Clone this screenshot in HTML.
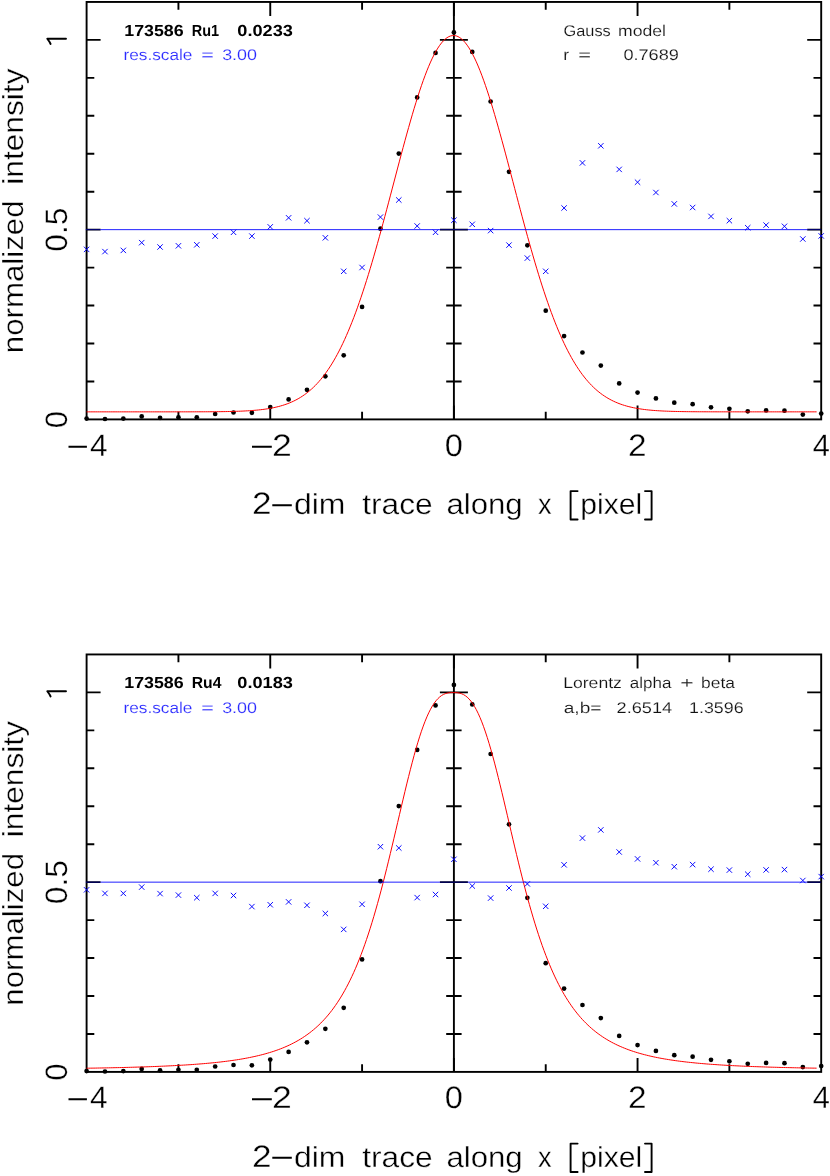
<!DOCTYPE html>
<html><head><meta charset="utf-8"><title>PSF trace fits</title>
<style>html,body{margin:0;padding:0;background:#fff}svg{display:block;will-change:transform}text{font-family:"Liberation Sans",sans-serif;text-rendering:geometricPrecision}</style>
</head><body>
<svg width="830" height="1176" viewBox="0 0 830 1176">
<rect width="830" height="1176" fill="#fff"/>
<g stroke="#000" stroke-width="1.9" fill="none">
<rect x="86.60" y="1.95" width="734.60" height="417.45"/>
<line x1="453.90" y1="1.95" x2="453.90" y2="419.40"/>
<path d="M178.43 419.40v-7.7M178.43 1.95v7.7M270.25 419.40v-14M270.25 1.95v14M362.08 419.40v-7.7M362.08 1.95v7.7M453.90 419.40v-14M453.90 1.95v14M545.73 419.40v-7.7M545.73 1.95v7.7M637.55 419.40v-14M637.55 1.95v14M729.38 419.40v-7.7M729.38 1.95v7.7M86.60 381.45h7.7M821.20 381.45h-7.7M446.20 381.45h15.4M86.60 343.50h7.7M821.20 343.50h-7.7M446.20 343.50h15.4M86.60 305.55h7.7M821.20 305.55h-7.7M446.20 305.55h15.4M86.60 267.60h7.7M821.20 267.60h-7.7M446.20 267.60h15.4M86.60 229.65h14M821.20 229.65h-14M439.90 229.65h28M86.60 191.70h7.7M821.20 191.70h-7.7M446.20 191.70h15.4M86.60 153.75h7.7M821.20 153.75h-7.7M446.20 153.75h15.4M86.60 115.80h7.7M821.20 115.80h-7.7M446.20 115.80h15.4M86.60 77.85h7.7M821.20 77.85h-7.7M446.20 77.85h15.4M86.60 39.90h14M821.20 39.90h-14M439.90 39.90h28"/>
</g>
<g fill="#000">
<circle cx="86.60" cy="418.55" r="2.35"/>
<circle cx="104.97" cy="419.00" r="2.35"/>
<circle cx="123.33" cy="418.55" r="2.35"/>
<circle cx="141.69" cy="416.40" r="2.35"/>
<circle cx="160.06" cy="417.80" r="2.35"/>
<circle cx="178.43" cy="417.35" r="2.35"/>
<circle cx="196.79" cy="417.35" r="2.35"/>
<circle cx="215.16" cy="414.00" r="2.35"/>
<circle cx="233.52" cy="412.50" r="2.35"/>
<circle cx="251.88" cy="412.80" r="2.35"/>
<circle cx="270.25" cy="407.10" r="2.35"/>
<circle cx="288.62" cy="399.40" r="2.35"/>
<circle cx="306.98" cy="389.80" r="2.35"/>
<circle cx="325.35" cy="376.30" r="2.35"/>
<circle cx="343.71" cy="355.30" r="2.35"/>
<circle cx="362.08" cy="306.90" r="2.35"/>
<circle cx="380.44" cy="228.70" r="2.35"/>
<circle cx="398.80" cy="153.60" r="2.35"/>
<circle cx="417.17" cy="97.40" r="2.35"/>
<circle cx="435.53" cy="52.90" r="2.35"/>
<circle cx="453.90" cy="32.40" r="2.35"/>
<circle cx="472.26" cy="51.90" r="2.35"/>
<circle cx="490.63" cy="101.50" r="2.35"/>
<circle cx="509.00" cy="171.80" r="2.35"/>
<circle cx="527.36" cy="245.30" r="2.35"/>
<circle cx="545.73" cy="310.70" r="2.35"/>
<circle cx="564.09" cy="336.10" r="2.35"/>
<circle cx="582.46" cy="352.50" r="2.35"/>
<circle cx="600.82" cy="365.60" r="2.35"/>
<circle cx="619.19" cy="383.40" r="2.35"/>
<circle cx="637.55" cy="392.60" r="2.35"/>
<circle cx="655.92" cy="398.40" r="2.35"/>
<circle cx="674.28" cy="402.70" r="2.35"/>
<circle cx="692.64" cy="404.20" r="2.35"/>
<circle cx="711.01" cy="407.30" r="2.35"/>
<circle cx="729.38" cy="408.80" r="2.35"/>
<circle cx="747.74" cy="411.30" r="2.35"/>
<circle cx="766.11" cy="410.40" r="2.35"/>
<circle cx="784.47" cy="410.70" r="2.35"/>
<circle cx="802.84" cy="414.60" r="2.35"/>
<circle cx="821.20" cy="413.60" r="2.35"/>
</g>
<polyline points="86.60,411.85 88.43,411.85 90.26,411.85 92.09,411.85 93.92,411.85 95.75,411.85 97.58,411.85 99.41,411.85 101.24,411.85 103.07,411.85 104.90,411.85 106.73,411.85 108.56,411.85 110.38,411.85 112.21,411.85 114.04,411.85 115.87,411.85 117.70,411.85 119.53,411.85 121.36,411.85 123.19,411.85 125.02,411.85 126.85,411.85 128.68,411.85 130.51,411.85 132.34,411.85 134.17,411.85 136.00,411.85 137.83,411.85 139.66,411.85 141.49,411.85 143.32,411.85 145.15,411.85 146.98,411.85 148.81,411.85 150.64,411.85 152.47,411.85 154.30,411.85 156.12,411.85 157.95,411.85 159.78,411.85 161.61,411.85 163.44,411.85 165.27,411.85 167.10,411.85 168.93,411.85 170.76,411.85 172.59,411.84 174.42,411.84 176.25,411.84 178.08,411.84 179.91,411.84 181.74,411.84 183.57,411.84 185.40,411.83 187.23,411.83 189.06,411.83 190.89,411.83 192.72,411.82 194.55,411.82 196.38,411.81 198.21,411.81 200.03,411.80 201.86,411.79 203.69,411.79 205.52,411.78 207.35,411.77 209.18,411.76 211.01,411.75 212.84,411.73 214.67,411.72 216.50,411.70 218.33,411.68 220.16,411.66 221.99,411.63 223.82,411.61 225.65,411.58 227.48,411.54 229.31,411.51 231.14,411.46 232.97,411.42 234.80,411.37 236.63,411.31 238.46,411.25 240.29,411.18 242.12,411.10 243.95,411.02 245.77,410.92 247.60,410.82 249.43,410.71 251.26,410.58 253.09,410.44 254.92,410.29 256.75,410.13 258.58,409.95 260.41,409.75 262.24,409.53 264.07,409.30 265.90,409.04 267.73,408.76 269.56,408.46 271.39,408.12 273.22,407.76 275.05,407.37 276.88,406.95 278.71,406.49 280.54,405.99 282.37,405.46 284.20,404.88 286.03,404.26 287.86,403.58 289.69,402.86 291.51,402.08 293.34,401.25 295.17,400.35 297.00,399.39 298.83,398.36 300.66,397.27 302.49,396.09 304.32,394.84 306.15,393.51 307.98,392.09 309.81,390.58 311.64,388.97 313.47,387.27 315.30,385.47 317.13,383.55 318.96,381.53 320.79,379.40 322.62,377.15 324.45,374.77 326.28,372.27 328.11,369.64 329.94,366.88 331.77,363.98 333.60,360.94 335.43,357.76 337.25,354.44 339.08,350.97 340.91,347.34 342.74,343.57 344.57,339.64 346.40,335.56 348.23,331.32 350.06,326.92 351.89,322.37 353.72,317.67 355.55,312.80 357.38,307.79 359.21,302.62 361.04,297.30 362.87,291.83 364.70,286.22 366.53,280.47 368.36,274.58 370.19,268.57 372.02,262.43 373.85,256.17 375.68,249.80 377.51,243.33 379.34,236.77 381.16,230.11 382.99,223.38 384.82,216.58 386.65,209.73 388.48,202.83 390.31,195.89 392.14,188.94 393.97,181.97 395.80,175.01 397.63,168.06 399.46,161.14 401.29,154.27 403.12,147.45 404.95,140.71 406.78,134.05 408.61,127.50 410.44,121.06 412.27,114.75 414.10,108.59 415.93,102.59 417.76,96.77 419.59,91.13 421.42,85.70 423.25,80.48 425.08,75.50 426.90,70.75 428.73,66.27 430.56,62.05 432.39,58.10 434.22,54.45 436.05,51.10 437.88,48.05 439.71,45.32 441.54,42.91 443.37,40.83 445.20,39.09 447.03,37.69 448.86,36.63 450.69,35.93 452.52,35.57 454.35,35.56 456.18,35.90 458.01,36.59 459.84,37.63 461.67,39.01 463.50,40.73 465.33,42.80 467.16,45.19 468.99,47.90 470.82,50.93 472.64,54.27 474.47,57.91 476.30,61.84 478.13,66.04 479.96,70.52 481.79,75.24 483.62,80.22 485.45,85.42 487.28,90.84 489.11,96.47 490.94,102.29 492.77,108.28 494.60,114.43 496.43,120.73 498.26,127.16 500.09,133.71 501.92,140.36 503.75,147.10 505.58,153.91 507.41,160.78 509.24,167.70 511.07,174.64 512.90,181.61 514.73,188.58 516.56,195.53 518.38,202.47 520.21,209.37 522.04,216.23 523.87,223.03 525.70,229.76 527.53,236.42 529.36,242.99 531.19,249.47 533.02,255.85 534.85,262.11 536.68,268.25 538.51,274.28 540.34,280.17 542.17,285.93 544.00,291.54 545.83,297.02 547.66,302.34 549.49,307.52 551.32,312.55 553.15,317.42 554.98,322.13 556.81,326.69 558.64,331.10 560.47,335.34 562.29,339.43 564.12,343.37 565.95,347.15 567.78,350.78 569.61,354.26 571.44,357.60 573.27,360.78 575.10,363.83 576.93,366.73 578.76,369.50 580.59,372.14 582.42,374.65 584.25,377.03 586.08,379.29 587.91,381.43 589.74,383.45 591.57,385.37 593.40,387.18 595.23,388.89 597.06,390.50 598.89,392.01 600.72,393.44 602.55,394.77 604.38,396.03 606.21,397.21 608.03,398.31 609.86,399.34 611.69,400.30 613.52,401.20 615.35,402.04 617.18,402.82 619.01,403.55 620.84,404.22 622.67,404.85 624.50,405.43 626.33,405.97 628.16,406.47 629.99,406.93 631.82,407.35 633.65,407.74 635.48,408.11 637.31,408.44 639.14,408.75 640.97,409.03 642.80,409.29 644.63,409.52 646.46,409.74 648.29,409.94 650.12,410.12 651.95,410.29 653.77,410.44 655.60,410.57 657.43,410.70 659.26,410.81 661.09,410.92 662.92,411.01 664.75,411.10 666.58,411.17 668.41,411.24 670.24,411.31 672.07,411.36 673.90,411.42 675.73,411.46 677.56,411.50 679.39,411.54 681.22,411.57 683.05,411.61 684.88,411.63 686.71,411.66 688.54,411.68 690.37,411.70 692.20,411.72 694.03,411.73 695.86,411.74 697.69,411.76 699.51,411.77 701.34,411.78 703.17,411.79 705.00,411.79 706.83,411.80 708.66,411.81 710.49,411.81 712.32,411.82 714.15,411.82 715.98,411.82 717.81,411.83 719.64,411.83 721.47,411.83 723.30,411.84 725.13,411.84 726.96,411.84 728.79,411.84 730.62,411.84 732.45,411.84 734.28,411.84 736.11,411.85 737.94,411.85 739.77,411.85 741.60,411.85 743.42,411.85 745.25,411.85 747.08,411.85 748.91,411.85 750.74,411.85 752.57,411.85 754.40,411.85 756.23,411.85 758.06,411.85 759.89,411.85 761.72,411.85 763.55,411.85 765.38,411.85 767.21,411.85 769.04,411.85 770.87,411.85 772.70,411.85 774.53,411.85 776.36,411.85 778.19,411.85 780.02,411.85 781.85,411.85 783.68,411.85 785.51,411.85 787.34,411.85 789.16,411.85 790.99,411.85 792.82,411.85 794.65,411.85 796.48,411.85 798.31,411.85 800.14,411.85 801.97,411.85 803.80,411.85 805.63,411.85 807.46,411.85 809.29,411.85 811.12,411.85 812.95,411.85 814.78,411.85 816.61,411.85" fill="none" stroke="#f00" stroke-width="1"/>
<path d="M100.60 229.65H439.90M467.90 229.65H807.20" stroke="#00f" stroke-width="0.88" fill="none"/>
<path d="M85.70 229.65H100.60M439.90 229.65H467.90M807.20 229.65H821.20" stroke="#00f" stroke-width="1" stroke-opacity="0.5" fill="none"/>
<path d="M83.90 246.70l5.4 5.4M83.90 252.10l5.4 -5.4M102.27 248.90l5.4 5.4M102.27 254.30l5.4 -5.4M120.63 247.70l5.4 5.4M120.63 253.10l5.4 -5.4M139.00 239.95l5.4 5.4M139.00 245.35l5.4 -5.4M157.36 244.30l5.4 5.4M157.36 249.70l5.4 -5.4M175.73 243.10l5.4 5.4M175.73 248.50l5.4 -5.4M194.09 242.10l5.4 5.4M194.09 247.50l5.4 -5.4M212.46 233.40l5.4 5.4M212.46 238.80l5.4 -5.4M230.82 229.60l5.4 5.4M230.82 235.00l5.4 -5.4M249.19 233.40l5.4 5.4M249.19 238.80l5.4 -5.4M267.55 224.15l5.4 5.4M267.55 229.55l5.4 -5.4M285.92 215.10l5.4 5.4M285.92 220.50l5.4 -5.4M304.28 218.00l5.4 5.4M304.28 223.40l5.4 -5.4M322.65 235.10l5.4 5.4M322.65 240.50l5.4 -5.4M341.01 268.60l5.4 5.4M341.01 274.00l5.4 -5.4M359.38 264.80l5.4 5.4M359.38 270.20l5.4 -5.4M377.74 214.40l5.4 5.4M377.74 219.80l5.4 -5.4M396.10 197.30l5.4 5.4M396.10 202.70l5.4 -5.4M414.47 223.30l5.4 5.4M414.47 228.70l5.4 -5.4M432.83 229.60l5.4 5.4M432.83 235.00l5.4 -5.4M451.20 217.50l5.4 5.4M451.20 222.90l5.4 -5.4M469.56 221.60l5.4 5.4M469.56 227.00l5.4 -5.4M487.93 227.90l5.4 5.4M487.93 233.30l5.4 -5.4M506.30 242.40l5.4 5.4M506.30 247.80l5.4 -5.4M524.66 255.40l5.4 5.4M524.66 260.80l5.4 -5.4M543.02 268.60l5.4 5.4M543.02 274.00l5.4 -5.4M561.39 205.30l5.4 5.4M561.39 210.70l5.4 -5.4M579.75 160.20l5.4 5.4M579.75 165.60l5.4 -5.4M598.12 143.10l5.4 5.4M598.12 148.50l5.4 -5.4M616.49 166.70l5.4 5.4M616.49 172.10l5.4 -5.4M634.85 179.50l5.4 5.4M634.85 184.90l5.4 -5.4M653.22 189.80l5.4 5.4M653.22 195.20l5.4 -5.4M671.58 201.20l5.4 5.4M671.58 206.60l5.4 -5.4M689.94 204.80l5.4 5.4M689.94 210.20l5.4 -5.4M708.31 213.70l5.4 5.4M708.31 219.10l5.4 -5.4M726.67 218.00l5.4 5.4M726.67 223.40l5.4 -5.4M745.04 225.00l5.4 5.4M745.04 230.40l5.4 -5.4M763.41 222.40l5.4 5.4M763.41 227.80l5.4 -5.4M781.77 223.60l5.4 5.4M781.77 229.00l5.4 -5.4M800.13 236.30l5.4 5.4M800.13 241.70l5.4 -5.4M818.50 233.20l5.4 5.4M818.50 238.60l5.4 -5.4" stroke="#00f" stroke-width="0.95" fill="none"/>
<text transform="translate(90.04 455.80) scale(1.0194 1)" font-size="31" stroke="#fff" stroke-width="0.30">4</text>
<text transform="translate(271.99 455.80) scale(1.1491 1)" font-size="31" stroke="#fff" stroke-width="0.30">2</text>
<text transform="translate(444.69 455.80) scale(1.0508 1)" font-size="31" stroke="#fff" stroke-width="0.30">0</text>
<text transform="translate(628.12 455.80) scale(1.0764 1)" font-size="31" stroke="#fff" stroke-width="0.30">2</text>
<text transform="translate(812.85 455.80) scale(0.9935 1)" font-size="31" stroke="#fff" stroke-width="0.30">4</text>
<text transform="translate(251.91 514.30) scale(1.1345 1)" font-size="31" stroke="#fff" stroke-width="0.30">2</text>
<text transform="translate(293.95 514.30) scale(1.1006 1)" font-size="29" stroke="#fff" stroke-width="0.35">dim</text>
<text transform="translate(362.15 514.30) scale(1.0928 1)" font-size="29" stroke="#fff" stroke-width="0.35">trace</text>
<text transform="translate(446.39 514.30) scale(1.0751 1)" font-size="29" stroke="#fff" stroke-width="0.35">along</text>
<text transform="translate(537.90 514.30) scale(0.9385 1)" font-size="29" stroke="#fff" stroke-width="0.35">x</text>
<text transform="translate(580.22 514.30) scale(1.0396 1)" font-size="29" stroke="#fff" stroke-width="0.35">pixel</text>
<path d="M577.6 491.10H570.6V519.50H577.6M645 491.10H651.6V519.50H645" stroke="#000" stroke-width="1.9" fill="none" stroke-linecap="round" stroke-linejoin="round"/>
<path d="M68.5 446.80H86.9M252 446.80H271.8M272.3 505.30H291.8" stroke="#000" stroke-width="1.9" fill="none"/>
<path d="M50.6 44.00L49.6 42.00L47.3 38.80H66.0" stroke="#000" stroke-width="1.9" fill="none" stroke-linecap="round" stroke-linejoin="round"/>
<text transform="translate(67.40 251.78) rotate(-90) scale(1.0247 1)" font-size="31" stroke="#fff" stroke-width="0.30">0.5</text>
<text transform="translate(67.40 428.15) rotate(-90) scale(1.0034 1)" font-size="31" stroke="#fff" stroke-width="0.30">0</text>
<text transform="translate(22.80 353.22) rotate(-90) scale(1.0771 1)" font-size="29" stroke="#fff" stroke-width="0.35">normalized</text>
<text transform="translate(22.80 184.79) rotate(-90) scale(1.0933 1)" font-size="29" stroke="#fff" stroke-width="0.35">intensity</text>
<text transform="translate(124.29 35.80) scale(1.1111 1)" font-size="16" font-weight="bold">173586</text>
<text transform="translate(191.80 35.80) scale(0.9043 1)" font-size="16" font-weight="bold">Ru1</text>
<text transform="translate(237.35 35.80) scale(1.1351 1)" font-size="16" font-weight="bold">0.0233</text>
<text transform="translate(123.41 60.30) scale(1.1133 1)" font-size="15.5" fill="#2a2aff" stroke="#fff" stroke-width="0.15">res.scale</text>
<text transform="translate(201.36 60.30) scale(1.3867 1)" font-size="15.5" fill="#2a2aff" stroke="#fff" stroke-width="0.15">=</text>
<text transform="translate(222.13 60.30) scale(1.1548 1)" font-size="15.5" fill="#2a2aff" stroke="#fff" stroke-width="0.15">3.00</text>
<text transform="translate(563.55 35.70) scale(1.0543 1)" font-size="15.5" fill="#111" stroke="#fff" stroke-width="0.15">Gauss</text>
<text transform="translate(618.08 35.70) scale(1.1346 1)" font-size="15.5" fill="#111" stroke="#fff" stroke-width="0.15">model</text>
<text transform="translate(563.17 60.30) scale(1.1429 1)" font-size="15.5" fill="#111" stroke="#fff" stroke-width="0.15">r</text>
<text transform="translate(578.14 60.30) scale(1.4133 1)" font-size="15.5" fill="#111" stroke="#fff" stroke-width="0.15">=</text>
<text transform="translate(623.42 60.30) scale(1.1694 1)" font-size="15.5" fill="#111" stroke="#fff" stroke-width="0.15">0.7689</text>
<g stroke="#000" stroke-width="1.9" fill="none">
<rect x="86.60" y="654.45" width="734.60" height="417.45"/>
<line x1="453.90" y1="654.45" x2="453.90" y2="1071.90"/>
<path d="M178.43 1071.90v-7.7M178.43 654.45v7.7M270.25 1071.90v-14M270.25 654.45v14M362.08 1071.90v-7.7M362.08 654.45v7.7M453.90 1071.90v-14M453.90 654.45v14M545.73 1071.90v-7.7M545.73 654.45v7.7M637.55 1071.90v-14M637.55 654.45v14M729.38 1071.90v-7.7M729.38 654.45v7.7M86.60 1033.95h7.7M821.20 1033.95h-7.7M446.20 1033.95h15.4M86.60 996.00h7.7M821.20 996.00h-7.7M446.20 996.00h15.4M86.60 958.05h7.7M821.20 958.05h-7.7M446.20 958.05h15.4M86.60 920.10h7.7M821.20 920.10h-7.7M446.20 920.10h15.4M86.60 882.15h14M821.20 882.15h-14M439.90 882.15h28M86.60 844.20h7.7M821.20 844.20h-7.7M446.20 844.20h15.4M86.60 806.25h7.7M821.20 806.25h-7.7M446.20 806.25h15.4M86.60 768.30h7.7M821.20 768.30h-7.7M446.20 768.30h15.4M86.60 730.35h7.7M821.20 730.35h-7.7M446.20 730.35h15.4M86.60 692.40h14M821.20 692.40h-14M439.90 692.40h28"/>
</g>
<g fill="#000">
<circle cx="86.60" cy="1071.05" r="2.35"/>
<circle cx="104.97" cy="1071.50" r="2.35"/>
<circle cx="123.33" cy="1071.05" r="2.35"/>
<circle cx="141.69" cy="1068.90" r="2.35"/>
<circle cx="160.06" cy="1070.30" r="2.35"/>
<circle cx="178.43" cy="1069.85" r="2.35"/>
<circle cx="196.79" cy="1069.85" r="2.35"/>
<circle cx="215.16" cy="1066.50" r="2.35"/>
<circle cx="233.52" cy="1065.00" r="2.35"/>
<circle cx="251.88" cy="1065.30" r="2.35"/>
<circle cx="270.25" cy="1059.60" r="2.35"/>
<circle cx="288.62" cy="1051.90" r="2.35"/>
<circle cx="306.98" cy="1042.30" r="2.35"/>
<circle cx="325.35" cy="1028.80" r="2.35"/>
<circle cx="343.71" cy="1007.80" r="2.35"/>
<circle cx="362.08" cy="959.40" r="2.35"/>
<circle cx="380.44" cy="881.20" r="2.35"/>
<circle cx="398.80" cy="806.10" r="2.35"/>
<circle cx="417.17" cy="749.90" r="2.35"/>
<circle cx="435.53" cy="705.40" r="2.35"/>
<circle cx="453.90" cy="684.90" r="2.35"/>
<circle cx="472.26" cy="704.40" r="2.35"/>
<circle cx="490.63" cy="754.00" r="2.35"/>
<circle cx="509.00" cy="824.30" r="2.35"/>
<circle cx="527.36" cy="897.80" r="2.35"/>
<circle cx="545.73" cy="963.20" r="2.35"/>
<circle cx="564.09" cy="988.60" r="2.35"/>
<circle cx="582.46" cy="1005.00" r="2.35"/>
<circle cx="600.82" cy="1018.10" r="2.35"/>
<circle cx="619.19" cy="1035.90" r="2.35"/>
<circle cx="637.55" cy="1045.10" r="2.35"/>
<circle cx="655.92" cy="1050.90" r="2.35"/>
<circle cx="674.28" cy="1055.20" r="2.35"/>
<circle cx="692.64" cy="1056.70" r="2.35"/>
<circle cx="711.01" cy="1059.80" r="2.35"/>
<circle cx="729.38" cy="1061.30" r="2.35"/>
<circle cx="747.74" cy="1063.80" r="2.35"/>
<circle cx="766.11" cy="1062.90" r="2.35"/>
<circle cx="784.47" cy="1063.20" r="2.35"/>
<circle cx="802.84" cy="1067.10" r="2.35"/>
<circle cx="821.20" cy="1066.10" r="2.35"/>
</g>
<polyline points="86.60,1068.23 88.43,1068.20 90.26,1068.17 92.09,1068.14 93.92,1068.11 95.75,1068.08 97.58,1068.04 99.41,1068.01 101.24,1067.98 103.07,1067.94 104.90,1067.91 106.73,1067.87 108.56,1067.83 110.38,1067.79 112.21,1067.75 114.04,1067.71 115.87,1067.67 117.70,1067.63 119.53,1067.59 121.36,1067.54 123.19,1067.50 125.02,1067.45 126.85,1067.41 128.68,1067.36 130.51,1067.31 132.34,1067.26 134.17,1067.20 136.00,1067.15 137.83,1067.09 139.66,1067.04 141.49,1066.98 143.32,1066.92 145.15,1066.86 146.98,1066.80 148.81,1066.73 150.64,1066.67 152.47,1066.60 154.30,1066.53 156.12,1066.46 157.95,1066.38 159.78,1066.31 161.61,1066.23 163.44,1066.15 165.27,1066.07 167.10,1065.98 168.93,1065.89 170.76,1065.80 172.59,1065.71 174.42,1065.62 176.25,1065.52 178.08,1065.42 179.91,1065.31 181.74,1065.21 183.57,1065.10 185.40,1064.99 187.23,1064.87 189.06,1064.75 190.89,1064.63 192.72,1064.50 194.55,1064.37 196.38,1064.23 198.21,1064.09 200.03,1063.95 201.86,1063.80 203.69,1063.65 205.52,1063.49 207.35,1063.32 209.18,1063.16 211.01,1062.98 212.84,1062.80 214.67,1062.62 216.50,1062.42 218.33,1062.23 220.16,1062.02 221.99,1061.81 223.82,1061.59 225.65,1061.36 227.48,1061.13 229.31,1060.89 231.14,1060.63 232.97,1060.37 234.80,1060.10 236.63,1059.83 238.46,1059.54 240.29,1059.24 242.12,1058.93 243.95,1058.61 245.77,1058.27 247.60,1057.93 249.43,1057.57 251.26,1057.20 253.09,1056.81 254.92,1056.41 256.75,1055.99 258.58,1055.56 260.41,1055.11 262.24,1054.65 264.07,1054.16 265.90,1053.66 267.73,1053.14 269.56,1052.59 271.39,1052.03 273.22,1051.44 275.05,1050.82 276.88,1050.19 278.71,1049.52 280.54,1048.83 282.37,1048.11 284.20,1047.36 286.03,1046.57 287.86,1045.76 289.69,1044.91 291.51,1044.02 293.34,1043.09 295.17,1042.13 297.00,1041.12 298.83,1040.07 300.66,1038.97 302.49,1037.82 304.32,1036.62 306.15,1035.37 307.98,1034.06 309.81,1032.69 311.64,1031.27 313.47,1029.77 315.30,1028.21 317.13,1026.58 318.96,1024.87 320.79,1023.08 322.62,1021.21 324.45,1019.26 326.28,1017.21 328.11,1015.07 329.94,1012.83 331.77,1010.49 333.60,1008.04 335.43,1005.47 337.25,1002.79 339.08,999.98 340.91,997.05 342.74,993.98 344.57,990.77 346.40,987.42 348.23,983.92 350.06,980.26 351.89,976.44 353.72,972.45 355.55,968.29 357.38,963.95 359.21,959.43 361.04,954.73 362.87,949.84 364.70,944.75 366.53,939.47 368.36,933.99 370.19,928.31 372.02,922.43 373.85,916.35 375.68,910.08 377.51,903.61 379.34,896.96 381.16,890.13 382.99,883.12 384.82,875.96 386.65,868.64 388.48,861.19 390.31,853.62 392.14,845.96 393.97,838.21 395.80,830.41 397.63,822.57 399.46,814.73 401.29,806.92 403.12,799.16 404.95,791.48 406.78,783.92 408.61,776.50 410.44,769.27 412.27,762.24 414.10,755.46 415.93,748.94 417.76,742.73 419.59,736.83 421.42,731.28 423.25,726.09 425.08,721.28 426.90,716.86 428.73,712.84 430.56,709.22 432.39,705.99 434.22,703.17 436.05,700.72 437.88,698.65 439.71,696.94 441.54,695.56 443.37,694.48 445.20,693.69 447.03,693.14 448.86,692.80 450.69,692.63 452.52,692.58 454.35,692.58 456.18,692.64 458.01,692.83 459.84,693.20 461.67,693.77 463.50,694.60 465.33,695.71 467.16,697.14 468.99,698.90 470.82,701.01 472.64,703.50 474.47,706.38 476.30,709.66 478.13,713.33 479.96,717.40 481.79,721.87 483.62,726.73 485.45,731.97 487.28,737.56 489.11,743.50 490.94,749.76 492.77,756.31 494.60,763.12 496.43,770.17 498.26,777.44 500.09,784.87 501.92,792.45 503.75,800.14 505.58,807.91 507.41,815.73 509.24,823.57 511.07,831.40 512.90,839.20 514.73,846.94 516.56,854.59 518.38,862.15 520.21,869.58 522.04,876.88 523.87,884.02 525.70,891.01 527.53,897.82 529.36,904.45 531.19,910.89 533.02,917.13 534.85,923.19 536.68,929.04 538.51,934.69 540.34,940.15 542.17,945.41 544.00,950.47 545.83,955.34 547.66,960.02 549.49,964.51 551.32,968.83 553.15,972.96 554.98,976.93 556.81,980.73 558.64,984.37 560.47,987.85 562.29,991.19 564.12,994.38 565.95,997.43 567.78,1000.35 569.61,1003.14 571.44,1005.81 573.27,1008.35 575.10,1010.79 576.93,1013.12 578.76,1015.35 580.59,1017.48 582.42,1019.51 584.25,1021.45 586.08,1023.31 587.91,1025.09 589.74,1026.79 591.57,1028.41 593.40,1029.96 595.23,1031.45 597.06,1032.87 598.89,1034.23 600.72,1035.53 602.55,1036.78 604.38,1037.97 606.21,1039.11 608.03,1040.20 609.86,1041.25 611.69,1042.25 613.52,1043.21 615.35,1044.13 617.18,1045.02 619.01,1045.86 620.84,1046.67 622.67,1047.45 624.50,1048.20 626.33,1048.92 628.16,1049.61 629.99,1050.27 631.82,1050.90 633.65,1051.51 635.48,1052.10 637.31,1052.66 639.14,1053.20 640.97,1053.73 642.80,1054.23 644.63,1054.71 646.46,1055.17 648.29,1055.62 650.12,1056.05 651.95,1056.46 653.77,1056.86 655.60,1057.25 657.43,1057.62 659.26,1057.97 661.09,1058.32 662.92,1058.65 664.75,1058.97 666.58,1059.28 668.41,1059.57 670.24,1059.86 672.07,1060.14 673.90,1060.41 675.73,1060.67 677.56,1060.92 679.39,1061.16 681.22,1061.39 683.05,1061.62 684.88,1061.84 686.71,1062.05 688.54,1062.25 690.37,1062.45 692.20,1062.64 694.03,1062.82 695.86,1063.00 697.69,1063.18 699.51,1063.35 701.34,1063.51 703.17,1063.67 705.00,1063.82 706.83,1063.97 708.66,1064.11 710.49,1064.25 712.32,1064.38 714.15,1064.51 715.98,1064.64 717.81,1064.76 719.64,1064.88 721.47,1065.00 723.30,1065.11 725.13,1065.22 726.96,1065.33 728.79,1065.43 730.62,1065.53 732.45,1065.63 734.28,1065.72 736.11,1065.82 737.94,1065.90 739.77,1065.99 741.60,1066.08 743.42,1066.16 745.25,1066.24 747.08,1066.32 748.91,1066.39 750.74,1066.46 752.57,1066.54 754.40,1066.61 756.23,1066.67 758.06,1066.74 759.89,1066.80 761.72,1066.87 763.55,1066.93 765.38,1066.99 767.21,1067.05 769.04,1067.10 770.87,1067.16 772.70,1067.21 774.53,1067.26 776.36,1067.31 778.19,1067.36 780.02,1067.41 781.85,1067.46 783.68,1067.51 785.51,1067.55 787.34,1067.59 789.16,1067.64 790.99,1067.68 792.82,1067.72 794.65,1067.76 796.48,1067.80 798.31,1067.84 800.14,1067.87 801.97,1067.91 803.80,1067.95 805.63,1067.98 807.46,1068.01 809.29,1068.05 811.12,1068.08 812.95,1068.11 814.78,1068.14 816.61,1068.17" fill="none" stroke="#f00" stroke-width="1"/>
<path d="M100.60 882.15H439.90M467.90 882.15H807.20" stroke="#00f" stroke-width="0.88" fill="none"/>
<path d="M85.70 882.15H100.60M439.90 882.15H467.90M807.20 882.15H821.20" stroke="#00f" stroke-width="1" stroke-opacity="0.5" fill="none"/>
<path d="M83.90 887.10l5.4 5.4M83.90 892.50l5.4 -5.4M102.27 890.70l5.4 5.4M102.27 896.10l5.4 -5.4M120.63 890.70l5.4 5.4M120.63 896.10l5.4 -5.4M139.00 884.40l5.4 5.4M139.00 889.80l5.4 -5.4M157.36 890.90l5.4 5.4M157.36 896.30l5.4 -5.4M175.73 892.40l5.4 5.4M175.73 897.80l5.4 -5.4M194.09 895.00l5.4 5.4M194.09 900.40l5.4 -5.4M212.46 890.70l5.4 5.4M212.46 896.10l5.4 -5.4M230.82 892.80l5.4 5.4M230.82 898.20l5.4 -5.4M249.19 903.90l5.4 5.4M249.19 909.30l5.4 -5.4M267.55 902.05l5.4 5.4M267.55 907.45l5.4 -5.4M285.92 899.20l5.4 5.4M285.92 904.60l5.4 -5.4M304.28 902.60l5.4 5.4M304.28 908.00l5.4 -5.4M322.65 910.80l5.4 5.4M322.65 916.20l5.4 -5.4M341.01 926.70l5.4 5.4M341.01 932.10l5.4 -5.4M359.38 901.60l5.4 5.4M359.38 907.00l5.4 -5.4M377.74 844.00l5.4 5.4M377.74 849.40l5.4 -5.4M396.10 845.30l5.4 5.4M396.10 850.70l5.4 -5.4M414.47 894.90l5.4 5.4M414.47 900.30l5.4 -5.4M432.83 891.80l5.4 5.4M432.83 897.20l5.4 -5.4M451.20 856.60l5.4 5.4M451.20 862.00l5.4 -5.4M469.56 883.30l5.4 5.4M469.56 888.70l5.4 -5.4M487.93 895.40l5.4 5.4M487.93 900.80l5.4 -5.4M506.30 885.30l5.4 5.4M506.30 890.70l5.4 -5.4M524.66 881.20l5.4 5.4M524.66 886.60l5.4 -5.4M543.02 903.60l5.4 5.4M543.02 909.00l5.4 -5.4M561.39 862.10l5.4 5.4M561.39 867.50l5.4 -5.4M579.75 835.40l5.4 5.4M579.75 840.80l5.4 -5.4M598.12 827.20l5.4 5.4M598.12 832.60l5.4 -5.4M616.49 849.30l5.4 5.4M616.49 854.70l5.4 -5.4M634.85 856.20l5.4 5.4M634.85 861.60l5.4 -5.4M653.22 860.00l5.4 5.4M653.22 865.40l5.4 -5.4M671.58 864.00l5.4 5.4M671.58 869.40l5.4 -5.4M689.94 861.90l5.4 5.4M689.94 867.30l5.4 -5.4M708.31 866.50l5.4 5.4M708.31 871.90l5.4 -5.4M726.67 867.40l5.4 5.4M726.67 872.80l5.4 -5.4M745.04 871.50l5.4 5.4M745.04 876.90l5.4 -5.4M763.41 867.20l5.4 5.4M763.41 872.60l5.4 -5.4M781.77 866.90l5.4 5.4M781.77 872.30l5.4 -5.4M800.13 877.80l5.4 5.4M800.13 883.20l5.4 -5.4M818.50 873.90l5.4 5.4M818.50 879.30l5.4 -5.4" stroke="#00f" stroke-width="0.95" fill="none"/>
<text transform="translate(90.04 1108.30) scale(1.0194 1)" font-size="31" stroke="#fff" stroke-width="0.30">4</text>
<text transform="translate(271.99 1108.30) scale(1.1491 1)" font-size="31" stroke="#fff" stroke-width="0.30">2</text>
<text transform="translate(444.69 1108.30) scale(1.0508 1)" font-size="31" stroke="#fff" stroke-width="0.30">0</text>
<text transform="translate(628.12 1108.30) scale(1.0764 1)" font-size="31" stroke="#fff" stroke-width="0.30">2</text>
<text transform="translate(812.85 1108.30) scale(0.9935 1)" font-size="31" stroke="#fff" stroke-width="0.30">4</text>
<text transform="translate(251.91 1166.80) scale(1.1345 1)" font-size="31" stroke="#fff" stroke-width="0.30">2</text>
<text transform="translate(293.95 1166.80) scale(1.1006 1)" font-size="29" stroke="#fff" stroke-width="0.35">dim</text>
<text transform="translate(362.15 1166.80) scale(1.0928 1)" font-size="29" stroke="#fff" stroke-width="0.35">trace</text>
<text transform="translate(446.39 1166.80) scale(1.0751 1)" font-size="29" stroke="#fff" stroke-width="0.35">along</text>
<text transform="translate(537.90 1166.80) scale(0.9385 1)" font-size="29" stroke="#fff" stroke-width="0.35">x</text>
<text transform="translate(580.22 1166.80) scale(1.0396 1)" font-size="29" stroke="#fff" stroke-width="0.35">pixel</text>
<path d="M577.6 1143.60H570.6V1172.00H577.6M645 1143.60H651.6V1172.00H645" stroke="#000" stroke-width="1.9" fill="none" stroke-linecap="round" stroke-linejoin="round"/>
<path d="M68.5 1099.30H86.9M252 1099.30H271.8M272.3 1157.80H291.8" stroke="#000" stroke-width="1.9" fill="none"/>
<path d="M50.6 696.50L49.6 694.50L47.3 691.30H66.0" stroke="#000" stroke-width="1.9" fill="none" stroke-linecap="round" stroke-linejoin="round"/>
<text transform="translate(67.40 904.28) rotate(-90) scale(1.0247 1)" font-size="31" stroke="#fff" stroke-width="0.30">0.5</text>
<text transform="translate(67.40 1080.65) rotate(-90) scale(1.0034 1)" font-size="31" stroke="#fff" stroke-width="0.30">0</text>
<text transform="translate(22.80 1005.72) rotate(-90) scale(1.0771 1)" font-size="29" stroke="#fff" stroke-width="0.35">normalized</text>
<text transform="translate(22.80 837.29) rotate(-90) scale(1.0933 1)" font-size="29" stroke="#fff" stroke-width="0.35">intensity</text>
<text transform="translate(124.29 688.30) scale(1.1111 1)" font-size="16" font-weight="bold">173586</text>
<text transform="translate(191.72 688.30) scale(0.9812 1)" font-size="16" font-weight="bold">Ru4</text>
<text transform="translate(237.35 688.30) scale(1.1351 1)" font-size="16" font-weight="bold">0.0183</text>
<text transform="translate(123.41 712.80) scale(1.1133 1)" font-size="15.5" fill="#2a2aff" stroke="#fff" stroke-width="0.15">res.scale</text>
<text transform="translate(201.36 712.80) scale(1.3867 1)" font-size="15.5" fill="#2a2aff" stroke="#fff" stroke-width="0.15">=</text>
<text transform="translate(222.13 712.80) scale(1.1548 1)" font-size="15.5" fill="#2a2aff" stroke="#fff" stroke-width="0.15">3.00</text>
<text transform="translate(563.18 688.20) scale(1.1354 1)" font-size="15.5" fill="#111" stroke="#fff" stroke-width="0.15">Lorentz</text>
<text transform="translate(629.78 688.20) scale(1.0973 1)" font-size="15.5" fill="#111" stroke="#fff" stroke-width="0.15">alpha</text>
<text transform="translate(680.19 688.20) scale(1.4800 1)" font-size="15.5" fill="#111" stroke="#fff" stroke-width="0.15">+</text>
<text transform="translate(701.08 688.20) scale(1.1241 1)" font-size="15.5" fill="#111" stroke="#fff" stroke-width="0.15">beta</text>
<text transform="translate(563.67 712.80) scale(1.2345 1)" font-size="15.5" fill="#111" stroke="#fff" stroke-width="0.15">a,b=</text>
<text transform="translate(616.53 712.80) scale(1.1739 1)" font-size="15.5" fill="#111" stroke="#fff" stroke-width="0.15">2.6514</text>
<text transform="translate(689.06 712.80) scale(1.1495 1)" font-size="15.5" fill="#111" stroke="#fff" stroke-width="0.15">1.3596</text>
</svg>
</body></html>
